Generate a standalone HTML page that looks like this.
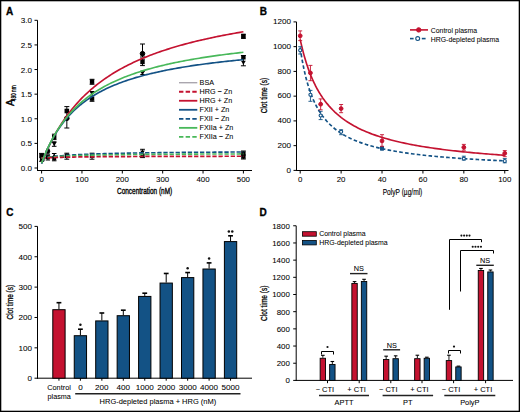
<!DOCTYPE html>
<html><head><meta charset="utf-8"><style>
html,body{margin:0;padding:0;background:#fff;}
svg{display:block;}
text{font-family:"Liberation Sans",sans-serif;}
</style></head><body>
<svg width="520" height="412" viewBox="0 0 520 412">
<rect x="0" y="0" width="520" height="412" fill="#fff"/>
<text x="6.00" y="14.60" font-size="10" text-anchor="start" font-weight="bold" fill="#000" stroke="#000" stroke-width="0.3" >A</text>
<line x1="37.50" y1="20.31" x2="37.50" y2="171.00" stroke="#000" stroke-width="1" />
<line x1="37.00" y1="170.50" x2="252.00" y2="170.50" stroke="#000" stroke-width="1" />
<line x1="34.50" y1="168.00" x2="37.50" y2="168.00" stroke="#000" stroke-width="1" />
<text x="32.10" y="171.00" font-size="8.1" text-anchor="end" font-weight="normal" fill="#000" stroke="#000" stroke-width="0.06" >0.0</text>
<line x1="34.50" y1="143.38" x2="37.50" y2="143.38" stroke="#000" stroke-width="1" />
<text x="32.10" y="146.38" font-size="8.1" text-anchor="end" font-weight="normal" fill="#000" stroke="#000" stroke-width="0.06" >0.5</text>
<line x1="34.50" y1="118.77" x2="37.50" y2="118.77" stroke="#000" stroke-width="1" />
<text x="32.10" y="121.77" font-size="8.1" text-anchor="end" font-weight="normal" fill="#000" stroke="#000" stroke-width="0.06" >1.0</text>
<line x1="34.50" y1="94.16" x2="37.50" y2="94.16" stroke="#000" stroke-width="1" />
<text x="32.10" y="97.16" font-size="8.1" text-anchor="end" font-weight="normal" fill="#000" stroke="#000" stroke-width="0.06" >1.5</text>
<line x1="34.50" y1="69.54" x2="37.50" y2="69.54" stroke="#000" stroke-width="1" />
<text x="32.10" y="72.54" font-size="8.1" text-anchor="end" font-weight="normal" fill="#000" stroke="#000" stroke-width="0.06" >2.0</text>
<line x1="34.50" y1="44.93" x2="37.50" y2="44.93" stroke="#000" stroke-width="1" />
<text x="32.10" y="47.93" font-size="8.1" text-anchor="end" font-weight="normal" fill="#000" stroke="#000" stroke-width="0.06" >2.5</text>
<line x1="34.50" y1="20.31" x2="37.50" y2="20.31" stroke="#000" stroke-width="1" />
<text x="32.10" y="23.31" font-size="8.1" text-anchor="end" font-weight="normal" fill="#000" stroke="#000" stroke-width="0.06" >3.0</text>
<line x1="41.60" y1="170.50" x2="41.60" y2="173.50" stroke="#000" stroke-width="1" />
<text x="41.60" y="181.70" font-size="7.9" text-anchor="middle" font-weight="normal" fill="#000" stroke="#000" stroke-width="0.06" >0</text>
<line x1="81.96" y1="170.50" x2="81.96" y2="173.50" stroke="#000" stroke-width="1" />
<text x="81.96" y="181.70" font-size="7.9" text-anchor="middle" font-weight="normal" fill="#000" stroke="#000" stroke-width="0.06" >100</text>
<line x1="122.32" y1="170.50" x2="122.32" y2="173.50" stroke="#000" stroke-width="1" />
<text x="122.32" y="181.70" font-size="7.9" text-anchor="middle" font-weight="normal" fill="#000" stroke="#000" stroke-width="0.06" >200</text>
<line x1="162.68" y1="170.50" x2="162.68" y2="173.50" stroke="#000" stroke-width="1" />
<text x="162.68" y="181.70" font-size="7.9" text-anchor="middle" font-weight="normal" fill="#000" stroke="#000" stroke-width="0.06" >300</text>
<line x1="203.04" y1="170.50" x2="203.04" y2="173.50" stroke="#000" stroke-width="1" />
<text x="203.04" y="181.70" font-size="7.9" text-anchor="middle" font-weight="normal" fill="#000" stroke="#000" stroke-width="0.06" >400</text>
<line x1="243.40" y1="170.50" x2="243.40" y2="173.50" stroke="#000" stroke-width="1" />
<text x="243.40" y="181.70" font-size="7.9" text-anchor="middle" font-weight="normal" fill="#000" stroke="#000" stroke-width="0.06" >500</text>
<text x="144.60" y="194.20" font-size="8.8" text-anchor="middle" font-weight="normal" fill="#000" stroke="#000" stroke-width="0.35" textLength="55.2" lengthAdjust="spacingAndGlyphs" >Concentration (nM)</text>
<g transform="translate(14,105.8) rotate(-90)"><text x="-0.3" y="0.2" font-size="10" fill="#000" stroke="#000" stroke-width="0.4">A</text><text x="4.6" y="1.8" font-size="7.8" fill="#000" stroke="#000" stroke-width="0.3" textLength="15.9" lengthAdjust="spacingAndGlyphs">490 nm</text></g>
<rect x="241.10" y="34.00" width="4.6" height="4.6" fill="#000"/>
<line x1="243.40" y1="34.20" x2="243.40" y2="38.40" stroke="#000" stroke-width="1.0" />
<line x1="241.10" y1="34.20" x2="245.70" y2="34.20" stroke="#000" stroke-width="1.0" />
<line x1="241.10" y1="38.40" x2="245.70" y2="38.40" stroke="#000" stroke-width="1.0" />
<rect x="241.20" y="55.10" width="4.4" height="4.4" fill="#000"/>
<polygon points="241.00,60.76 245.80,60.76 243.40,64.84" fill="#000"/>
<line x1="243.40" y1="55.50" x2="243.40" y2="65.80" stroke="#000" stroke-width="1.0" />
<line x1="240.90" y1="55.50" x2="245.90" y2="55.50" stroke="#000" stroke-width="1.0" />
<line x1="240.90" y1="65.80" x2="245.90" y2="65.80" stroke="#000" stroke-width="1.0" />
<circle cx="142.50" cy="53.70" r="2.3" fill="#000" stroke="#000" stroke-width="1"/>
<line x1="142.50" y1="44.00" x2="142.50" y2="57.00" stroke="#000" stroke-width="1.0" />
<line x1="140.00" y1="44.00" x2="145.00" y2="44.00" stroke="#000" stroke-width="1.0" />
<line x1="140.00" y1="57.00" x2="145.00" y2="57.00" stroke="#000" stroke-width="1.0" />
<rect x="140.30" y="59.80" width="4.4" height="4.4" fill="#000"/>
<line x1="142.50" y1="59.20" x2="142.50" y2="65.60" stroke="#000" stroke-width="1.0" />
<line x1="140.10" y1="59.20" x2="144.90" y2="59.20" stroke="#000" stroke-width="1.0" />
<line x1="140.10" y1="65.60" x2="144.90" y2="65.60" stroke="#000" stroke-width="1.0" />
<polygon points="140.10,71.06 144.90,71.06 142.50,75.14" fill="#000"/>
<line x1="142.50" y1="71.20" x2="142.50" y2="74.50" stroke="#000" stroke-width="1.0" />
<line x1="140.30" y1="71.20" x2="144.70" y2="71.20" stroke="#000" stroke-width="1.0" />
<line x1="140.30" y1="74.50" x2="144.70" y2="74.50" stroke="#000" stroke-width="1.0" />
<rect x="89.85" y="79.50" width="4.4" height="4.4" fill="#000"/>
<line x1="92.05" y1="79.30" x2="92.05" y2="84.30" stroke="#000" stroke-width="1.0" />
<line x1="89.65" y1="79.30" x2="94.45" y2="79.30" stroke="#000" stroke-width="1.0" />
<line x1="89.65" y1="84.30" x2="94.45" y2="84.30" stroke="#000" stroke-width="1.0" />
<polygon points="89.65,91.56 94.45,91.56 92.05,95.64" fill="#000"/>
<rect x="89.85" y="96.40" width="4.4" height="4.4" fill="#000"/>
<line x1="92.05" y1="91.50" x2="92.05" y2="101.30" stroke="#000" stroke-width="1.0" />
<line x1="89.65" y1="91.50" x2="94.45" y2="91.50" stroke="#000" stroke-width="1.0" />
<line x1="89.65" y1="101.30" x2="94.45" y2="101.30" stroke="#000" stroke-width="1.0" />
<rect x="64.53" y="108.70" width="4.6" height="4.6" fill="#000"/>
<circle cx="66.83" cy="118.30" r="2.3" fill="#000" stroke="#000" stroke-width="1"/>
<line x1="66.83" y1="106.60" x2="66.83" y2="128.00" stroke="#000" stroke-width="1.0" />
<line x1="64.33" y1="106.60" x2="69.33" y2="106.60" stroke="#000" stroke-width="1.0" />
<line x1="64.33" y1="128.00" x2="69.33" y2="128.00" stroke="#000" stroke-width="1.0" />
<rect x="52.01" y="134.70" width="4.4" height="4.4" fill="#000"/>
<line x1="54.21" y1="134.20" x2="54.21" y2="139.60" stroke="#000" stroke-width="1.0" />
<line x1="51.91" y1="134.20" x2="56.51" y2="134.20" stroke="#000" stroke-width="1.0" />
<line x1="51.91" y1="139.60" x2="56.51" y2="139.60" stroke="#000" stroke-width="1.0" />
<polygon points="51.81,142.06 56.61,142.06 54.21,146.14" fill="#000"/>
<line x1="54.21" y1="141.80" x2="54.21" y2="146.30" stroke="#000" stroke-width="1.0" />
<line x1="51.91" y1="141.80" x2="56.51" y2="141.80" stroke="#000" stroke-width="1.0" />
<line x1="51.91" y1="146.30" x2="56.51" y2="146.30" stroke="#000" stroke-width="1.0" />
<circle cx="47.90" cy="151.20" r="1.9" fill="#000" stroke="#000" stroke-width="1"/>
<line x1="47.90" y1="149.20" x2="47.90" y2="153.20" stroke="#000" stroke-width="1.0" />
<line x1="46.10" y1="149.20" x2="49.70" y2="149.20" stroke="#000" stroke-width="1.0" />
<line x1="46.10" y1="153.20" x2="49.70" y2="153.20" stroke="#000" stroke-width="1.0" />
<rect x="39.30" y="153.50" width="4.6" height="4.6" fill="#000"/>
<rect x="39.90" y="156.50" width="4.6" height="4.6" fill="#000"/>
<line x1="41.60" y1="153.40" x2="41.60" y2="161.30" stroke="#000" stroke-width="1.0" />
<line x1="39.10" y1="153.40" x2="44.10" y2="153.40" stroke="#000" stroke-width="1.0" />
<line x1="39.10" y1="161.30" x2="44.10" y2="161.30" stroke="#000" stroke-width="1.0" />
<rect x="45.90" y="155.20" width="4.0" height="4.0" fill="#000"/>
<line x1="47.90" y1="154.80" x2="47.90" y2="160.00" stroke="#000" stroke-width="1.0" />
<line x1="45.70" y1="154.80" x2="50.10" y2="154.80" stroke="#000" stroke-width="1.0" />
<line x1="45.70" y1="160.00" x2="50.10" y2="160.00" stroke="#000" stroke-width="1.0" />
<polygon points="52.01,157.17 56.41,157.17 54.21,153.43" fill="#000"/>
<rect x="52.21" y="156.30" width="4.0" height="4.0" fill="#000"/>
<line x1="54.21" y1="153.50" x2="54.21" y2="160.80" stroke="#000" stroke-width="1.0" />
<line x1="51.91" y1="153.50" x2="56.51" y2="153.50" stroke="#000" stroke-width="1.0" />
<line x1="51.91" y1="160.80" x2="56.51" y2="160.80" stroke="#000" stroke-width="1.0" />
<rect x="64.62" y="153.60" width="4.4" height="4.4" fill="#000"/>
<line x1="66.83" y1="153.20" x2="66.83" y2="159.20" stroke="#000" stroke-width="1.0" />
<line x1="64.42" y1="153.20" x2="69.23" y2="153.20" stroke="#000" stroke-width="1.0" />
<line x1="64.42" y1="159.20" x2="69.23" y2="159.20" stroke="#000" stroke-width="1.0" />
<rect x="89.85" y="153.60" width="4.4" height="4.4" fill="#000"/>
<line x1="92.05" y1="153.20" x2="92.05" y2="159.20" stroke="#000" stroke-width="1.0" />
<line x1="89.65" y1="153.20" x2="94.45" y2="153.20" stroke="#000" stroke-width="1.0" />
<line x1="89.65" y1="159.20" x2="94.45" y2="159.20" stroke="#000" stroke-width="1.0" />
<polygon points="140.20,150.54 144.80,150.54 142.50,154.46" fill="#000"/>
<rect x="140.40" y="153.40" width="4.2" height="4.2" fill="#000"/>
<line x1="142.50" y1="149.30" x2="142.50" y2="157.60" stroke="#000" stroke-width="1.0" />
<line x1="140.10" y1="149.30" x2="144.90" y2="149.30" stroke="#000" stroke-width="1.0" />
<line x1="140.10" y1="157.60" x2="144.90" y2="157.60" stroke="#000" stroke-width="1.0" />
<rect x="241.20" y="151.30" width="4.4" height="4.4" fill="#000"/>
<rect x="241.20" y="154.30" width="4.4" height="4.4" fill="#000"/>
<line x1="243.40" y1="151.00" x2="243.40" y2="159.00" stroke="#000" stroke-width="1.0" />
<line x1="241.00" y1="151.00" x2="245.80" y2="151.00" stroke="#000" stroke-width="1.0" />
<line x1="241.00" y1="159.00" x2="245.80" y2="159.00" stroke="#000" stroke-width="1.0" />
<polyline points="41.60,158.15 43.30,157.86 44.99,157.58 46.69,157.33 48.38,157.09 50.08,156.87 51.77,156.67 53.47,156.48 55.17,156.30 56.86,156.13 58.56,155.97 60.25,155.82 61.95,155.68 63.65,155.55 65.34,155.42 67.04,155.30 68.73,155.19 70.43,155.08 72.12,154.97 73.82,154.88 75.52,154.78 77.21,154.69 78.91,154.61 80.60,154.52 82.30,154.45 83.99,154.37 85.69,154.30 87.39,154.23 89.08,154.16 90.78,154.10 92.47,154.04 94.17,153.98 95.87,153.92 97.56,153.86 99.26,153.81 100.95,153.76 102.65,153.71 104.34,153.66 106.04,153.61 107.74,153.57 109.43,153.52 111.13,153.48 112.82,153.44 114.52,153.40 116.22,153.36 117.91,153.32 119.61,153.29 121.30,153.25 123.00,153.22 124.69,153.18 126.39,153.15 128.09,153.12 129.78,153.09 131.48,153.06 133.17,153.03 134.87,153.00 136.56,152.97 138.26,152.94 139.96,152.92 141.65,152.89 143.35,152.87 145.04,152.84 146.74,152.82 148.44,152.79 150.13,152.77 151.83,152.75 153.52,152.73 155.22,152.71 156.91,152.68 158.61,152.66 160.31,152.64 162.00,152.62 163.70,152.60 165.39,152.59 167.09,152.57 168.78,152.55 170.48,152.53 172.18,152.51 173.87,152.50 175.57,152.48 177.26,152.46 178.96,152.45 180.66,152.43 182.35,152.42 184.05,152.40 185.74,152.38 187.44,152.37 189.13,152.36 190.83,152.34 192.53,152.33 194.22,152.31 195.92,152.30 197.61,152.29 199.31,152.27 201.01,152.26 202.70,152.25 204.40,152.24 206.09,152.22 207.79,152.21 209.48,152.20 211.18,152.19 212.88,152.18 214.57,152.17 216.27,152.16 217.96,152.14 219.66,152.13 221.35,152.12 223.05,152.11 224.75,152.10 226.44,152.09 228.14,152.08 229.83,152.07 231.53,152.06 233.23,152.05 234.92,152.04 236.62,152.04 238.31,152.03 240.01,152.02 241.70,152.01 243.40,152.00" fill="none" stroke="#135285" stroke-width="1.6" stroke-dasharray="4.3,1.8"/>
<polyline points="41.60,158.15 43.30,157.91 44.99,157.69 46.69,157.48 48.38,157.30 50.08,157.13 51.77,156.97 53.47,156.83 55.17,156.70 56.86,156.57 58.56,156.46 60.25,156.35 61.95,156.25 63.65,156.16 65.34,156.07 67.04,155.98 68.73,155.91 70.43,155.83 72.12,155.76 73.82,155.70 75.52,155.63 77.21,155.57 78.91,155.51 80.60,155.46 82.30,155.41 83.99,155.36 85.69,155.31 87.39,155.27 89.08,155.22 90.78,155.18 92.47,155.14 94.17,155.10 95.87,155.07 97.56,155.03 99.26,155.00 100.95,154.97 102.65,154.93 104.34,154.90 106.04,154.87 107.74,154.85 109.43,154.82 111.13,154.79 112.82,154.77 114.52,154.74 116.22,154.72 117.91,154.69 119.61,154.67 121.30,154.65 123.00,154.63 124.69,154.61 126.39,154.59 128.09,154.57 129.78,154.55 131.48,154.53 133.17,154.51 134.87,154.50 136.56,154.48 138.26,154.46 139.96,154.45 141.65,154.43 143.35,154.42 145.04,154.40 146.74,154.39 148.44,154.37 150.13,154.36 151.83,154.35 153.52,154.33 155.22,154.32 156.91,154.31 158.61,154.30 160.31,154.28 162.00,154.27 163.70,154.26 165.39,154.25 167.09,154.24 168.78,154.23 170.48,154.22 172.18,154.21 173.87,154.20 175.57,154.19 177.26,154.18 178.96,154.17 180.66,154.16 182.35,154.15 184.05,154.14 185.74,154.13 187.44,154.12 189.13,154.11 190.83,154.11 192.53,154.10 194.22,154.09 195.92,154.08 197.61,154.08 199.31,154.07 201.01,154.06 202.70,154.05 204.40,154.05 206.09,154.04 207.79,154.03 209.48,154.03 211.18,154.02 212.88,154.01 214.57,154.01 216.27,154.00 217.96,153.99 219.66,153.99 221.35,153.98 223.05,153.97 224.75,153.97 226.44,153.96 228.14,153.96 229.83,153.95 231.53,153.95 233.23,153.94 234.92,153.94 236.62,153.93 238.31,153.93 240.01,153.92 241.70,153.91 243.40,153.91" fill="none" stroke="#48b85a" stroke-width="1.6" stroke-dasharray="4.3,1.8"/>
<polyline points="41.60,158.15 43.30,158.04 44.99,157.94 46.69,157.85 48.38,157.77 50.08,157.69 51.77,157.62 53.47,157.56 55.17,157.50 56.86,157.44 58.56,157.39 60.25,157.34 61.95,157.30 63.65,157.26 65.34,157.22 67.04,157.18 68.73,157.14 70.43,157.11 72.12,157.08 73.82,157.05 75.52,157.02 77.21,156.99 78.91,156.97 80.60,156.94 82.30,156.92 83.99,156.90 85.69,156.88 87.39,156.85 89.08,156.84 90.78,156.82 92.47,156.80 94.17,156.78 95.87,156.77 97.56,156.75 99.26,156.73 100.95,156.72 102.65,156.71 104.34,156.69 106.04,156.68 107.74,156.67 109.43,156.65 111.13,156.64 112.82,156.63 114.52,156.62 116.22,156.61 117.91,156.60 119.61,156.59 121.30,156.58 123.00,156.57 124.69,156.56 126.39,156.55 128.09,156.54 129.78,156.53 131.48,156.52 133.17,156.52 134.87,156.51 136.56,156.50 138.26,156.49 139.96,156.49 141.65,156.48 143.35,156.47 145.04,156.47 146.74,156.46 148.44,156.45 150.13,156.45 151.83,156.44 153.52,156.43 155.22,156.43 156.91,156.42 158.61,156.42 160.31,156.41 162.00,156.41 163.70,156.40 165.39,156.40 167.09,156.39 168.78,156.39 170.48,156.38 172.18,156.38 173.87,156.37 175.57,156.37 177.26,156.36 178.96,156.36 180.66,156.36 182.35,156.35 184.05,156.35 185.74,156.34 187.44,156.34 189.13,156.34 190.83,156.33 192.53,156.33 194.22,156.33 195.92,156.32 197.61,156.32 199.31,156.32 201.01,156.31 202.70,156.31 204.40,156.31 206.09,156.30 207.79,156.30 209.48,156.30 211.18,156.29 212.88,156.29 214.57,156.29 216.27,156.28 217.96,156.28 219.66,156.28 221.35,156.28 223.05,156.27 224.75,156.27 226.44,156.27 228.14,156.27 229.83,156.26 231.53,156.26 233.23,156.26 234.92,156.26 236.62,156.25 238.31,156.25 240.01,156.25 241.70,156.25 243.40,156.24" fill="none" stroke="#c41230" stroke-width="1.7" stroke-dasharray="4.3,1.8"/>
<polyline points="41.60,163.09 43.30,158.86 44.99,154.83 46.69,150.98 48.38,147.31 50.08,143.79 51.77,140.43 53.47,137.21 55.17,134.12 56.86,131.16 58.56,128.31 60.25,125.57 61.95,122.94 63.65,120.40 65.34,117.96 67.04,115.60 68.73,113.33 70.43,111.14 72.12,109.02 73.82,106.97 75.52,104.99 77.21,103.08 78.91,101.23 80.60,99.43 82.30,97.69 83.99,96.00 85.69,94.37 87.39,92.78 89.08,91.24 90.78,89.74 92.47,88.28 94.17,86.87 95.87,85.49 97.56,84.15 99.26,82.85 100.95,81.58 102.65,80.35 104.34,79.14 106.04,77.97 107.74,76.83 109.43,75.71 111.13,74.63 112.82,73.57 114.52,72.53 116.22,71.52 117.91,70.53 119.61,69.57 121.30,68.62 123.00,67.70 124.69,66.80 126.39,65.92 128.09,65.06 129.78,64.21 131.48,63.39 133.17,62.58 134.87,61.79 136.56,61.02 138.26,60.26 139.96,59.51 141.65,58.79 143.35,58.07 145.04,57.37 146.74,56.69 148.44,56.01 150.13,55.35 151.83,54.70 153.52,54.07 155.22,53.45 156.91,52.83 158.61,52.23 160.31,51.64 162.00,51.06 163.70,50.49 165.39,49.93 167.09,49.38 168.78,48.84 170.48,48.31 172.18,47.79 173.87,47.28 175.57,46.77 177.26,46.28 178.96,45.79 180.66,45.31 182.35,44.84 184.05,44.37 185.74,43.92 187.44,43.47 189.13,43.02 190.83,42.59 192.53,42.16 194.22,41.74 195.92,41.32 197.61,40.91 199.31,40.51 201.01,40.11 202.70,39.72 204.40,39.33 206.09,38.95 207.79,38.57 209.48,38.20 211.18,37.84 212.88,37.48 214.57,37.13 216.27,36.78 217.96,36.43 219.66,36.09 221.35,35.76 223.05,35.43 224.75,35.10 226.44,34.78 228.14,34.46 229.83,34.15 231.53,33.84 233.23,33.53 234.92,33.23 236.62,32.93 238.31,32.64 240.01,32.35 241.70,32.06 243.40,31.78" fill="none" stroke="#c41230" stroke-width="1.65"/>
<polyline points="41.60,163.81 43.30,159.20 44.99,154.90 46.69,150.90 48.38,147.16 50.08,143.66 51.77,140.37 53.47,137.27 55.17,134.36 56.86,131.61 58.56,129.01 60.25,126.54 61.95,124.21 63.65,121.99 65.34,119.88 67.04,117.87 68.73,115.96 70.43,114.14 72.12,112.39 73.82,110.73 75.52,109.13 77.21,107.60 78.91,106.14 80.60,104.73 82.30,103.38 83.99,102.08 85.69,100.83 87.39,99.63 89.08,98.47 90.78,97.35 92.47,96.27 94.17,95.23 95.87,94.23 97.56,93.26 99.26,92.32 100.95,91.41 102.65,90.53 104.34,89.68 106.04,88.85 107.74,88.05 109.43,87.28 111.13,86.52 112.82,85.79 114.52,85.08 116.22,84.39 117.91,83.72 119.61,83.07 121.30,82.43 123.00,81.82 124.69,81.21 126.39,80.63 128.09,80.06 129.78,79.50 131.48,78.96 133.17,78.43 134.87,77.91 136.56,77.41 138.26,76.92 139.96,76.44 141.65,75.97 143.35,75.51 145.04,75.07 146.74,74.63 148.44,74.20 150.13,73.78 151.83,73.38 153.52,72.98 155.22,72.58 156.91,72.20 158.61,71.83 160.31,71.46 162.00,71.10 163.70,70.75 165.39,70.40 167.09,70.06 168.78,69.73 170.48,69.41 172.18,69.09 173.87,68.77 175.57,68.47 177.26,68.16 178.96,67.87 180.66,67.58 182.35,67.29 184.05,67.01 185.74,66.74 187.44,66.47 189.13,66.20 190.83,65.94 192.53,65.69 194.22,65.43 195.92,65.19 197.61,64.94 199.31,64.70 201.01,64.47 202.70,64.24 204.40,64.01 206.09,63.79 207.79,63.57 209.48,63.35 211.18,63.14 212.88,62.93 214.57,62.72 216.27,62.52 217.96,62.32 219.66,62.12 221.35,61.92 223.05,61.73 224.75,61.54 226.44,61.36 228.14,61.17 229.83,60.99 231.53,60.82 233.23,60.64 234.92,60.47 236.62,60.30 238.31,60.13 240.01,59.96 241.70,59.80 243.40,59.64" fill="none" stroke="#135285" stroke-width="1.65"/>
<polyline points="41.60,163.12 43.30,158.65 44.99,154.46 46.69,150.53 48.38,146.82 50.08,143.33 51.77,140.03 53.47,136.91 55.17,133.95 56.86,131.15 58.56,128.48 60.25,125.94 61.95,123.53 63.65,121.22 65.34,119.02 67.04,116.92 68.73,114.91 70.43,112.99 72.12,111.14 73.82,109.37 75.52,107.67 77.21,106.04 78.91,104.47 80.60,102.96 82.30,101.50 83.99,100.10 85.69,98.75 87.39,97.45 89.08,96.19 90.78,94.97 92.47,93.79 94.17,92.65 95.87,91.55 97.56,90.49 99.26,89.45 100.95,88.45 102.65,87.48 104.34,86.54 106.04,85.62 107.74,84.73 109.43,83.87 111.13,83.03 112.82,82.22 114.52,81.42 116.22,80.65 117.91,79.90 119.61,79.17 121.30,78.46 123.00,77.76 124.69,77.09 126.39,76.43 128.09,75.78 129.78,75.16 131.48,74.54 133.17,73.95 134.87,73.36 136.56,72.79 138.26,72.23 139.96,71.69 141.65,71.16 143.35,70.64 145.04,70.13 146.74,69.63 148.44,69.14 150.13,68.67 151.83,68.20 153.52,67.74 155.22,67.29 156.91,66.85 158.61,66.42 160.31,66.00 162.00,65.59 163.70,65.19 165.39,64.79 167.09,64.40 168.78,64.02 170.48,63.64 172.18,63.27 173.87,62.91 175.57,62.56 177.26,62.21 178.96,61.87 180.66,61.53 182.35,61.20 184.05,60.88 185.74,60.56 187.44,60.25 189.13,59.94 190.83,59.64 192.53,59.34 194.22,59.05 195.92,58.76 197.61,58.48 199.31,58.20 201.01,57.93 202.70,57.66 204.40,57.40 206.09,57.13 207.79,56.88 209.48,56.63 211.18,56.38 212.88,56.13 214.57,55.89 216.27,55.65 217.96,55.42 219.66,55.19 221.35,54.96 223.05,54.74 224.75,54.52 226.44,54.30 228.14,54.08 229.83,53.87 231.53,53.66 233.23,53.46 234.92,53.26 236.62,53.06 238.31,52.86 240.01,52.66 241.70,52.47 243.40,52.28" fill="none" stroke="#48b85a" stroke-width="1.65"/>
<line x1="179.00" y1="82.70" x2="197.30" y2="82.70" stroke="#aaa6ae" stroke-width="1.4" />
<text x="199.60" y="85.30" font-size="7.2" text-anchor="start" font-weight="normal" fill="#000" stroke="#000" stroke-width="0.06" >BSA</text>
<line x1="179.00" y1="91.73" x2="197.30" y2="91.73" stroke="#c41230" stroke-width="1.8" stroke-dasharray="4.4,2.25"/>
<text x="199.60" y="94.33" font-size="7.2" text-anchor="start" font-weight="normal" fill="#000" stroke="#000" stroke-width="0.06" >HRG − Zn</text>
<line x1="179.00" y1="100.76" x2="197.30" y2="100.76" stroke="#c41230" stroke-width="1.8" />
<text x="199.60" y="103.36" font-size="7.2" text-anchor="start" font-weight="normal" fill="#000" stroke="#000" stroke-width="0.06" >HRG + Zn</text>
<line x1="179.00" y1="109.79" x2="197.30" y2="109.79" stroke="#135285" stroke-width="1.8" />
<text x="199.60" y="112.39" font-size="7.2" text-anchor="start" font-weight="normal" fill="#000" stroke="#000" stroke-width="0.06" >FXII + Zn</text>
<line x1="179.00" y1="118.82" x2="197.30" y2="118.82" stroke="#135285" stroke-width="1.8" stroke-dasharray="4.4,2.25"/>
<text x="199.60" y="121.42" font-size="7.2" text-anchor="start" font-weight="normal" fill="#000" stroke="#000" stroke-width="0.06" >FXII − Zn</text>
<line x1="179.00" y1="127.85" x2="197.30" y2="127.85" stroke="#48b85a" stroke-width="1.8" />
<text x="199.60" y="130.45" font-size="7.2" text-anchor="start" font-weight="normal" fill="#000" stroke="#000" stroke-width="0.06" >FXIIa + Zn</text>
<line x1="179.00" y1="136.88" x2="197.30" y2="136.88" stroke="#48b85a" stroke-width="1.8" stroke-dasharray="4.4,2.25"/>
<text x="199.60" y="139.48" font-size="7.2" text-anchor="start" font-weight="normal" fill="#000" stroke="#000" stroke-width="0.06" >FXIIa − Zn</text>
<text x="259.80" y="14.90" font-size="10" text-anchor="start" font-weight="bold" fill="#000" stroke="#000" stroke-width="0.3" >B</text>
<line x1="296.50" y1="21.90" x2="296.50" y2="171.00" stroke="#000" stroke-width="1" />
<line x1="296.00" y1="170.50" x2="508.50" y2="170.50" stroke="#000" stroke-width="1" />
<line x1="293.50" y1="170.40" x2="296.50" y2="170.40" stroke="#000" stroke-width="1" />
<text x="290.90" y="172.65" font-size="8.1" text-anchor="end" font-weight="normal" fill="#000" stroke="#000" stroke-width="0.06" >0</text>
<line x1="293.50" y1="145.65" x2="296.50" y2="145.65" stroke="#000" stroke-width="1" />
<text x="290.90" y="147.90" font-size="8.1" text-anchor="end" font-weight="normal" fill="#000" stroke="#000" stroke-width="0.06" >200</text>
<line x1="293.50" y1="120.90" x2="296.50" y2="120.90" stroke="#000" stroke-width="1" />
<text x="290.90" y="123.15" font-size="8.1" text-anchor="end" font-weight="normal" fill="#000" stroke="#000" stroke-width="0.06" >400</text>
<line x1="293.50" y1="96.15" x2="296.50" y2="96.15" stroke="#000" stroke-width="1" />
<text x="290.90" y="98.40" font-size="8.1" text-anchor="end" font-weight="normal" fill="#000" stroke="#000" stroke-width="0.06" >600</text>
<line x1="293.50" y1="71.40" x2="296.50" y2="71.40" stroke="#000" stroke-width="1" />
<text x="290.90" y="73.65" font-size="8.1" text-anchor="end" font-weight="normal" fill="#000" stroke="#000" stroke-width="0.06" >800</text>
<line x1="293.50" y1="46.65" x2="296.50" y2="46.65" stroke="#000" stroke-width="1" />
<text x="290.90" y="48.90" font-size="8.1" text-anchor="end" font-weight="normal" fill="#000" stroke="#000" stroke-width="0.06" >1000</text>
<line x1="293.50" y1="21.90" x2="296.50" y2="21.90" stroke="#000" stroke-width="1" />
<text x="290.90" y="24.15" font-size="8.1" text-anchor="end" font-weight="normal" fill="#000" stroke="#000" stroke-width="0.06" >1200</text>
<line x1="300.20" y1="170.50" x2="300.20" y2="173.50" stroke="#000" stroke-width="1" />
<text x="300.20" y="181.70" font-size="7.9" text-anchor="middle" font-weight="normal" fill="#000" stroke="#000" stroke-width="0.06" >0</text>
<line x1="341.11" y1="170.50" x2="341.11" y2="173.50" stroke="#000" stroke-width="1" />
<text x="341.11" y="181.70" font-size="7.9" text-anchor="middle" font-weight="normal" fill="#000" stroke="#000" stroke-width="0.06" >20</text>
<line x1="382.02" y1="170.50" x2="382.02" y2="173.50" stroke="#000" stroke-width="1" />
<text x="382.02" y="181.70" font-size="7.9" text-anchor="middle" font-weight="normal" fill="#000" stroke="#000" stroke-width="0.06" >40</text>
<line x1="422.93" y1="170.50" x2="422.93" y2="173.50" stroke="#000" stroke-width="1" />
<text x="422.93" y="181.70" font-size="7.9" text-anchor="middle" font-weight="normal" fill="#000" stroke="#000" stroke-width="0.06" >60</text>
<line x1="463.84" y1="170.50" x2="463.84" y2="173.50" stroke="#000" stroke-width="1" />
<text x="463.84" y="181.70" font-size="7.9" text-anchor="middle" font-weight="normal" fill="#000" stroke="#000" stroke-width="0.06" >80</text>
<line x1="504.75" y1="170.50" x2="504.75" y2="173.50" stroke="#000" stroke-width="1" />
<text x="504.75" y="181.70" font-size="7.9" text-anchor="middle" font-weight="normal" fill="#000" stroke="#000" stroke-width="0.06" >100</text>
<text x="402.50" y="194.60" font-size="8.8" text-anchor="middle" font-weight="normal" fill="#000" stroke="#000" stroke-width="0.15" textLength="39.6" lengthAdjust="spacingAndGlyphs" >PolyP (µg/ml)</text>
<g transform="translate(267.4,95.6) rotate(-90)"><text x="0" y="0" font-size="9" text-anchor="middle" fill="#000" stroke="#000" stroke-width="0.3" textLength="35.4" lengthAdjust="spacingAndGlyphs">Clot time (s)</text></g>
<polyline points="300.20,47.91 300.72,51.39 301.25,54.68 301.77,57.79 302.30,60.74 302.82,63.54 303.35,66.20 303.87,68.73 304.40,71.14 304.92,73.44 305.44,75.64 305.97,77.74 306.49,79.75 307.02,81.68 307.54,83.52 308.07,85.29 308.59,86.99 309.12,88.62 309.64,90.19 310.17,91.71 310.69,93.16 311.21,94.57 311.74,95.92 312.26,97.23 312.79,98.49 313.31,99.71 313.84,100.89 314.36,102.03 314.89,103.13 315.41,104.20 315.93,105.24 316.46,106.24 316.98,107.21 317.51,108.16 318.03,109.08 318.56,109.97 319.08,110.83 319.61,111.67 320.13,112.49 320.65,113.29 320.65,113.29 322.72,116.22 324.79,118.88 326.86,121.28 328.93,123.47 331.00,125.48 333.07,127.33 335.13,129.03 337.20,130.60 339.27,132.05 341.34,133.41 343.41,134.67 345.48,135.86 347.55,136.96 349.61,138.00 351.68,138.98 353.75,139.90 355.82,140.77 357.89,141.59 359.96,142.37 362.02,143.10 364.09,143.81 366.16,144.47 368.23,145.10 370.30,145.71 372.37,146.28 374.44,146.83 376.50,147.36 378.57,147.86 380.64,148.35 382.71,148.81 384.78,149.25 386.85,149.68 388.91,150.09 390.98,150.48 393.05,150.86 395.12,151.23 397.19,151.58 399.26,151.92 401.33,152.25 403.39,152.57 405.46,152.87 407.53,153.17 409.60,153.46 411.67,153.73 413.74,154.00 415.81,154.26 417.87,154.51 419.94,154.76 422.01,155.00 424.08,155.23 426.15,155.45 428.22,155.67 430.28,155.88 432.35,156.09 434.42,156.29 436.49,156.48 438.56,156.67 440.63,156.86 442.70,157.04 444.76,157.21 446.83,157.38 448.90,157.55 450.97,157.71 453.04,157.87 455.11,158.03 457.17,158.18 459.24,158.33 461.31,158.47 463.38,158.61 465.45,158.75 467.52,158.88 469.59,159.01 471.65,159.14 473.72,159.27 475.79,159.39 477.86,159.51 479.93,159.63 482.00,159.75 484.07,159.86 486.13,159.97 488.20,160.08 490.27,160.19 492.34,160.29 494.41,160.40 496.48,160.50 498.54,160.60 500.61,160.69 502.68,160.79 504.75,160.88" fill="none" stroke="#135285" stroke-width="1.65" stroke-dasharray="3.6,2.3"/>
<polyline points="300.20,39.46 300.72,41.86 301.25,44.17 301.77,46.40 302.30,48.56 302.82,50.64 303.35,52.65 303.87,54.60 304.40,56.48 304.92,58.30 305.44,60.07 305.97,61.78 306.49,63.44 307.02,65.05 307.54,66.61 308.07,68.13 308.59,69.61 309.12,71.04 309.64,72.43 310.17,73.79 310.69,75.10 311.21,76.39 311.74,77.64 312.26,78.85 312.79,80.04 313.31,81.20 313.84,82.32 314.36,83.42 314.89,84.49 315.41,85.54 315.93,86.56 316.46,87.56 316.98,88.53 317.51,89.48 318.03,90.41 318.56,91.32 319.08,92.21 319.61,93.08 320.13,93.93 320.65,94.76 320.65,94.76 322.72,97.88 324.79,100.75 326.86,103.40 328.93,105.86 331.00,108.15 333.07,110.29 335.13,112.29 337.20,114.15 339.27,115.91 341.34,117.56 343.41,119.11 345.48,120.58 347.55,121.97 349.61,123.28 351.68,124.52 353.75,125.71 355.82,126.83 357.89,127.90 359.96,128.92 362.02,129.89 364.09,130.82 366.16,131.71 368.23,132.56 370.30,133.37 372.37,134.15 374.44,134.90 376.50,135.62 378.57,136.31 380.64,136.98 382.71,137.62 384.78,138.24 386.85,138.83 388.91,139.41 390.98,139.96 393.05,140.50 395.12,141.01 397.19,141.51 399.26,142.00 401.33,142.46 403.39,142.92 405.46,143.36 407.53,143.78 409.60,144.20 411.67,144.60 413.74,144.99 415.81,145.37 417.87,145.73 419.94,146.09 422.01,146.44 424.08,146.78 426.15,147.10 428.22,147.42 430.28,147.74 432.35,148.04 434.42,148.34 436.49,148.62 438.56,148.91 440.63,149.18 442.70,149.45 444.76,149.71 446.83,149.97 448.90,150.21 450.97,150.46 453.04,150.70 455.11,150.93 457.17,151.16 459.24,151.38 461.31,151.60 463.38,151.81 465.45,152.02 467.52,152.22 469.59,152.42 471.65,152.62 473.72,152.81 475.79,153.00 477.86,153.18 479.93,153.36 482.00,153.54 484.07,153.71 486.13,153.88 488.20,154.05 490.27,154.21 492.34,154.37 494.41,154.53 496.48,154.68 498.54,154.83 500.61,154.98 502.68,155.13 504.75,155.27" fill="none" stroke="#c41230" stroke-width="1.65"/>
<line x1="300.20" y1="46.70" x2="300.20" y2="54.00" stroke="#135285" stroke-width="0.9" />
<line x1="298.20" y1="46.70" x2="302.20" y2="46.70" stroke="#135285" stroke-width="0.9" />
<line x1="298.20" y1="54.00" x2="302.20" y2="54.00" stroke="#135285" stroke-width="0.9" />
<circle cx="300.20" cy="50.30" r="1.55" fill="#fff" stroke="#135285" stroke-width="1.15"/>
<line x1="310.43" y1="90.40" x2="310.43" y2="101.30" stroke="#135285" stroke-width="0.9" />
<line x1="308.43" y1="90.40" x2="312.43" y2="90.40" stroke="#135285" stroke-width="0.9" />
<line x1="308.43" y1="101.30" x2="312.43" y2="101.30" stroke="#135285" stroke-width="0.9" />
<circle cx="310.43" cy="94.80" r="1.55" fill="#fff" stroke="#135285" stroke-width="1.15"/>
<line x1="320.65" y1="111.30" x2="320.65" y2="119.60" stroke="#135285" stroke-width="0.9" />
<line x1="318.65" y1="111.30" x2="322.65" y2="111.30" stroke="#135285" stroke-width="0.9" />
<line x1="318.65" y1="119.60" x2="322.65" y2="119.60" stroke="#135285" stroke-width="0.9" />
<circle cx="320.65" cy="115.50" r="1.55" fill="#fff" stroke="#135285" stroke-width="1.15"/>
<line x1="341.11" y1="129.80" x2="341.11" y2="134.70" stroke="#135285" stroke-width="0.9" />
<line x1="339.11" y1="129.80" x2="343.11" y2="129.80" stroke="#135285" stroke-width="0.9" />
<line x1="339.11" y1="134.70" x2="343.11" y2="134.70" stroke="#135285" stroke-width="0.9" />
<circle cx="341.11" cy="131.70" r="1.55" fill="#fff" stroke="#135285" stroke-width="1.15"/>
<line x1="382.02" y1="147.00" x2="382.02" y2="150.00" stroke="#135285" stroke-width="0.9" />
<line x1="380.02" y1="147.00" x2="384.02" y2="147.00" stroke="#135285" stroke-width="0.9" />
<line x1="380.02" y1="150.00" x2="384.02" y2="150.00" stroke="#135285" stroke-width="0.9" />
<circle cx="382.02" cy="148.30" r="1.55" fill="#fff" stroke="#135285" stroke-width="1.15"/>
<rect x="380.02" y="146.30" width="4.0" height="4.0" fill="#135285"/>
<line x1="463.84" y1="156.20" x2="463.84" y2="160.10" stroke="#135285" stroke-width="0.9" />
<line x1="461.84" y1="156.20" x2="465.84" y2="156.20" stroke="#135285" stroke-width="0.9" />
<line x1="461.84" y1="160.10" x2="465.84" y2="160.10" stroke="#135285" stroke-width="0.9" />
<circle cx="463.84" cy="158.60" r="1.55" fill="#fff" stroke="#135285" stroke-width="1.15"/>
<line x1="504.75" y1="158.60" x2="504.75" y2="162.80" stroke="#135285" stroke-width="0.9" />
<line x1="502.75" y1="158.60" x2="506.75" y2="158.60" stroke="#135285" stroke-width="0.9" />
<line x1="502.75" y1="162.80" x2="506.75" y2="162.80" stroke="#135285" stroke-width="0.9" />
<circle cx="504.75" cy="161.00" r="1.55" fill="#fff" stroke="#135285" stroke-width="1.15"/>
<line x1="300.20" y1="30.90" x2="300.20" y2="40.60" stroke="#c41230" stroke-width="0.9" />
<line x1="298.20" y1="30.90" x2="302.20" y2="30.90" stroke="#c41230" stroke-width="0.9" />
<line x1="298.20" y1="40.60" x2="302.20" y2="40.60" stroke="#c41230" stroke-width="0.9" />
<circle cx="300.20" cy="35.80" r="1.9" fill="#c41230" stroke="#c41230" stroke-width="1"/>
<line x1="310.43" y1="65.40" x2="310.43" y2="80.70" stroke="#c41230" stroke-width="0.9" />
<line x1="308.43" y1="65.40" x2="312.43" y2="65.40" stroke="#c41230" stroke-width="0.9" />
<line x1="308.43" y1="80.70" x2="312.43" y2="80.70" stroke="#c41230" stroke-width="0.9" />
<circle cx="310.43" cy="72.90" r="1.9" fill="#c41230" stroke="#c41230" stroke-width="1"/>
<line x1="320.65" y1="98.90" x2="320.65" y2="109.80" stroke="#c41230" stroke-width="0.9" />
<line x1="318.65" y1="98.90" x2="322.65" y2="98.90" stroke="#c41230" stroke-width="0.9" />
<line x1="318.65" y1="109.80" x2="322.65" y2="109.80" stroke="#c41230" stroke-width="0.9" />
<circle cx="320.65" cy="104.20" r="1.9" fill="#c41230" stroke="#c41230" stroke-width="1"/>
<line x1="341.11" y1="104.50" x2="341.11" y2="112.70" stroke="#c41230" stroke-width="0.9" />
<line x1="339.11" y1="104.50" x2="343.11" y2="104.50" stroke="#c41230" stroke-width="0.9" />
<line x1="339.11" y1="112.70" x2="343.11" y2="112.70" stroke="#c41230" stroke-width="0.9" />
<circle cx="341.11" cy="108.60" r="1.9" fill="#c41230" stroke="#c41230" stroke-width="1"/>
<line x1="382.02" y1="134.70" x2="382.02" y2="146.30" stroke="#c41230" stroke-width="0.9" />
<line x1="380.02" y1="134.70" x2="384.02" y2="134.70" stroke="#c41230" stroke-width="0.9" />
<line x1="380.02" y1="146.30" x2="384.02" y2="146.30" stroke="#c41230" stroke-width="0.9" />
<circle cx="382.02" cy="140.90" r="1.9" fill="#c41230" stroke="#c41230" stroke-width="1"/>
<line x1="463.84" y1="144.40" x2="463.84" y2="150.20" stroke="#c41230" stroke-width="0.9" />
<line x1="461.84" y1="144.40" x2="465.84" y2="144.40" stroke="#c41230" stroke-width="0.9" />
<line x1="461.84" y1="150.20" x2="465.84" y2="150.20" stroke="#c41230" stroke-width="0.9" />
<circle cx="463.84" cy="147.30" r="1.9" fill="#c41230" stroke="#c41230" stroke-width="1"/>
<line x1="504.75" y1="150.60" x2="504.75" y2="156.70" stroke="#c41230" stroke-width="0.9" />
<line x1="502.75" y1="150.60" x2="506.75" y2="150.60" stroke="#c41230" stroke-width="0.9" />
<line x1="502.75" y1="156.70" x2="506.75" y2="156.70" stroke="#c41230" stroke-width="0.9" />
<circle cx="504.75" cy="153.30" r="1.9" fill="#c41230" stroke="#c41230" stroke-width="1"/>
<line x1="410.00" y1="29.90" x2="428.00" y2="29.90" stroke="#c41230" stroke-width="1.6" />
<circle cx="418.70" cy="29.90" r="2.2" fill="#c41230" stroke="#c41230" stroke-width="1"/>
<line x1="410.00" y1="38.60" x2="413.60" y2="38.60" stroke="#135285" stroke-width="1.6" />
<line x1="421.80" y1="38.60" x2="425.60" y2="38.60" stroke="#135285" stroke-width="1.6" />
<circle cx="417.70" cy="38.60" r="1.95" fill="#fff" stroke="#135285" stroke-width="1.1"/>
<text x="430.80" y="32.80" font-size="7.2" text-anchor="start" font-weight="normal" fill="#000" stroke="#000" stroke-width="0.06" textLength="46.2" lengthAdjust="spacingAndGlyphs" >Control plasma</text>
<text x="430.80" y="41.60" font-size="7.2" text-anchor="start" font-weight="normal" fill="#000" stroke="#000" stroke-width="0.06" textLength="68.2" lengthAdjust="spacingAndGlyphs" >HRG-depleted plasma</text>
<text x="6.20" y="215.70" font-size="10" text-anchor="start" font-weight="bold" fill="#000" stroke="#000" stroke-width="0.3" >C</text>
<line x1="37.50" y1="226.40" x2="37.50" y2="378.70" stroke="#000" stroke-width="1" />
<line x1="37.00" y1="378.20" x2="252.00" y2="378.20" stroke="#000" stroke-width="1" />
<line x1="34.50" y1="378.20" x2="37.50" y2="378.20" stroke="#000" stroke-width="1" />
<text x="32.00" y="380.95" font-size="8.1" text-anchor="end" font-weight="normal" fill="#000" stroke="#000" stroke-width="0.06" >0</text>
<line x1="34.50" y1="347.84" x2="37.50" y2="347.84" stroke="#000" stroke-width="1" />
<text x="32.00" y="350.59" font-size="8.1" text-anchor="end" font-weight="normal" fill="#000" stroke="#000" stroke-width="0.06" >100</text>
<line x1="34.50" y1="317.48" x2="37.50" y2="317.48" stroke="#000" stroke-width="1" />
<text x="32.00" y="320.23" font-size="8.1" text-anchor="end" font-weight="normal" fill="#000" stroke="#000" stroke-width="0.06" >200</text>
<line x1="34.50" y1="287.12" x2="37.50" y2="287.12" stroke="#000" stroke-width="1" />
<text x="32.00" y="289.87" font-size="8.1" text-anchor="end" font-weight="normal" fill="#000" stroke="#000" stroke-width="0.06" >300</text>
<line x1="34.50" y1="256.76" x2="37.50" y2="256.76" stroke="#000" stroke-width="1" />
<text x="32.00" y="259.51" font-size="8.1" text-anchor="end" font-weight="normal" fill="#000" stroke="#000" stroke-width="0.06" >400</text>
<line x1="34.50" y1="226.40" x2="37.50" y2="226.40" stroke="#000" stroke-width="1" />
<text x="32.00" y="229.15" font-size="8.1" text-anchor="end" font-weight="normal" fill="#000" stroke="#000" stroke-width="0.06" >500</text>
<g transform="translate(12.6,302.2) rotate(-90)"><text x="0" y="0" font-size="8.8" text-anchor="middle" fill="#000" stroke="#000" stroke-width="0.3" textLength="34.6" lengthAdjust="spacingAndGlyphs">Clot time (s)</text></g>
<line x1="58.95" y1="309.19" x2="58.95" y2="302.69" stroke="#000" stroke-width="1" />
<line x1="56.55" y1="302.69" x2="61.35" y2="302.69" stroke="#000" stroke-width="1.6" />
<rect x="52.80" y="309.69" width="12.30" height="68.51" fill="#c41230" stroke="#000" stroke-width="1"/>
<line x1="58.95" y1="378.20" x2="58.95" y2="380.70" stroke="#000" stroke-width="1" />
<line x1="80.40" y1="335.21" x2="80.40" y2="329.20" stroke="#000" stroke-width="1" />
<line x1="78.00" y1="329.20" x2="82.80" y2="329.20" stroke="#000" stroke-width="1.6" />
<rect x="74.25" y="335.71" width="12.30" height="42.49" fill="#135285" stroke="#000" stroke-width="1"/>
<line x1="80.40" y1="378.20" x2="80.40" y2="380.70" stroke="#000" stroke-width="1" />
<circle cx="80.40" cy="324.80" r="1.25" fill="#111"/>
<text x="80.40" y="390.10" font-size="8.1" text-anchor="middle" font-weight="normal" fill="#000" stroke="#000" stroke-width="0.06" >0</text>
<line x1="101.85" y1="320.42" x2="101.85" y2="312.99" stroke="#000" stroke-width="1" />
<line x1="99.45" y1="312.99" x2="104.25" y2="312.99" stroke="#000" stroke-width="1.6" />
<rect x="95.70" y="320.92" width="12.30" height="57.28" fill="#135285" stroke="#000" stroke-width="1"/>
<line x1="101.85" y1="378.20" x2="101.85" y2="380.70" stroke="#000" stroke-width="1" />
<text x="101.85" y="390.10" font-size="8.1" text-anchor="middle" font-weight="normal" fill="#000" stroke="#000" stroke-width="0.06" >200</text>
<line x1="123.30" y1="315.20" x2="123.30" y2="310.19" stroke="#000" stroke-width="1" />
<line x1="120.90" y1="310.19" x2="125.70" y2="310.19" stroke="#000" stroke-width="1.6" />
<rect x="117.15" y="315.70" width="12.30" height="62.50" fill="#135285" stroke="#000" stroke-width="1"/>
<line x1="123.30" y1="378.20" x2="123.30" y2="380.70" stroke="#000" stroke-width="1" />
<text x="123.30" y="390.10" font-size="8.1" text-anchor="middle" font-weight="normal" fill="#000" stroke="#000" stroke-width="0.06" >400</text>
<line x1="144.75" y1="295.92" x2="144.75" y2="293.19" stroke="#000" stroke-width="1" />
<line x1="142.35" y1="293.19" x2="147.15" y2="293.19" stroke="#000" stroke-width="1.6" />
<rect x="138.60" y="296.42" width="12.30" height="81.78" fill="#135285" stroke="#000" stroke-width="1"/>
<line x1="144.75" y1="378.20" x2="144.75" y2="380.70" stroke="#000" stroke-width="1" />
<text x="144.75" y="390.10" font-size="8.1" text-anchor="middle" font-weight="normal" fill="#000" stroke="#000" stroke-width="0.06" >1000</text>
<line x1="166.20" y1="282.57" x2="166.20" y2="273.46" stroke="#000" stroke-width="1" />
<line x1="163.80" y1="273.46" x2="168.60" y2="273.46" stroke="#000" stroke-width="1.6" />
<rect x="160.05" y="283.07" width="12.30" height="95.13" fill="#135285" stroke="#000" stroke-width="1"/>
<line x1="166.20" y1="378.20" x2="166.20" y2="380.70" stroke="#000" stroke-width="1" />
<text x="166.20" y="390.10" font-size="8.1" text-anchor="middle" font-weight="normal" fill="#000" stroke="#000" stroke-width="0.06" >2000</text>
<line x1="187.65" y1="277.10" x2="187.65" y2="272.55" stroke="#000" stroke-width="1" />
<line x1="185.25" y1="272.55" x2="190.05" y2="272.55" stroke="#000" stroke-width="1.6" />
<rect x="181.50" y="277.60" width="12.30" height="100.60" fill="#135285" stroke="#000" stroke-width="1"/>
<line x1="187.65" y1="378.20" x2="187.65" y2="380.70" stroke="#000" stroke-width="1" />
<circle cx="187.65" cy="268.15" r="1.25" fill="#111"/>
<text x="187.65" y="390.10" font-size="8.1" text-anchor="middle" font-weight="normal" fill="#000" stroke="#000" stroke-width="0.06" >3000</text>
<line x1="209.10" y1="268.51" x2="209.10" y2="262.89" stroke="#000" stroke-width="1" />
<line x1="206.70" y1="262.89" x2="211.50" y2="262.89" stroke="#000" stroke-width="1.6" />
<rect x="202.95" y="269.01" width="12.30" height="109.19" fill="#135285" stroke="#000" stroke-width="1"/>
<line x1="209.10" y1="378.20" x2="209.10" y2="380.70" stroke="#000" stroke-width="1" />
<circle cx="209.10" cy="258.49" r="1.25" fill="#111"/>
<text x="209.10" y="390.10" font-size="8.1" text-anchor="middle" font-weight="normal" fill="#000" stroke="#000" stroke-width="0.06" >4000</text>
<line x1="230.55" y1="241.09" x2="230.55" y2="235.81" stroke="#000" stroke-width="1" />
<line x1="228.15" y1="235.81" x2="232.95" y2="235.81" stroke="#000" stroke-width="1.6" />
<rect x="224.40" y="241.59" width="12.30" height="136.61" fill="#135285" stroke="#000" stroke-width="1"/>
<line x1="230.55" y1="378.20" x2="230.55" y2="380.70" stroke="#000" stroke-width="1" />
<circle cx="228.85" cy="231.41" r="1.25" fill="#111"/>
<circle cx="232.25" cy="231.41" r="1.25" fill="#111"/>
<text x="230.55" y="390.10" font-size="8.1" text-anchor="middle" font-weight="normal" fill="#000" stroke="#000" stroke-width="0.06" >5000</text>
<text x="59.05" y="389.90" font-size="8.1" text-anchor="middle" font-weight="normal" fill="#000" stroke="#000" stroke-width="0.06" textLength="23.6" lengthAdjust="spacingAndGlyphs" >Control</text>
<text x="59.20" y="398.80" font-size="8.1" text-anchor="middle" font-weight="normal" fill="#000" stroke="#000" stroke-width="0.06" textLength="23.3" lengthAdjust="spacingAndGlyphs" >plasma</text>
<line x1="75.20" y1="393.70" x2="240.50" y2="393.70" stroke="#222" stroke-width="1.4" />
<text x="157.90" y="404.10" font-size="8.1" text-anchor="middle" font-weight="normal" fill="#000" stroke="#000" stroke-width="0.06" textLength="116.6" lengthAdjust="spacingAndGlyphs" >HRG-depleted plasma + HRG (nM)</text>
<text x="259.60" y="215.70" font-size="10" text-anchor="start" font-weight="bold" fill="#000" stroke="#000" stroke-width="0.3" >D</text>
<line x1="296.20" y1="225.78" x2="296.20" y2="380.90" stroke="#000" stroke-width="1" />
<line x1="295.70" y1="380.40" x2="513.00" y2="380.40" stroke="#000" stroke-width="1" />
<line x1="293.20" y1="380.40" x2="296.20" y2="380.40" stroke="#000" stroke-width="1" />
<text x="289.80" y="383.30" font-size="7.9" text-anchor="end" font-weight="normal" fill="#000" stroke="#000" stroke-width="0.06" >0</text>
<line x1="293.20" y1="363.22" x2="296.20" y2="363.22" stroke="#000" stroke-width="1" />
<text x="289.80" y="366.12" font-size="7.9" text-anchor="end" font-weight="normal" fill="#000" stroke="#000" stroke-width="0.06" >200</text>
<line x1="293.20" y1="346.04" x2="296.20" y2="346.04" stroke="#000" stroke-width="1" />
<text x="289.80" y="348.94" font-size="7.9" text-anchor="end" font-weight="normal" fill="#000" stroke="#000" stroke-width="0.06" >400</text>
<line x1="293.20" y1="328.86" x2="296.20" y2="328.86" stroke="#000" stroke-width="1" />
<text x="289.80" y="331.76" font-size="7.9" text-anchor="end" font-weight="normal" fill="#000" stroke="#000" stroke-width="0.06" >600</text>
<line x1="293.20" y1="311.68" x2="296.20" y2="311.68" stroke="#000" stroke-width="1" />
<text x="289.80" y="314.58" font-size="7.9" text-anchor="end" font-weight="normal" fill="#000" stroke="#000" stroke-width="0.06" >800</text>
<line x1="293.20" y1="294.50" x2="296.20" y2="294.50" stroke="#000" stroke-width="1" />
<text x="289.80" y="297.40" font-size="7.9" text-anchor="end" font-weight="normal" fill="#000" stroke="#000" stroke-width="0.06" >1000</text>
<line x1="293.20" y1="277.32" x2="296.20" y2="277.32" stroke="#000" stroke-width="1" />
<text x="289.80" y="280.22" font-size="7.9" text-anchor="end" font-weight="normal" fill="#000" stroke="#000" stroke-width="0.06" >1200</text>
<line x1="293.20" y1="260.14" x2="296.20" y2="260.14" stroke="#000" stroke-width="1" />
<text x="289.80" y="263.04" font-size="7.9" text-anchor="end" font-weight="normal" fill="#000" stroke="#000" stroke-width="0.06" >1400</text>
<line x1="293.20" y1="242.96" x2="296.20" y2="242.96" stroke="#000" stroke-width="1" />
<text x="289.80" y="245.86" font-size="7.9" text-anchor="end" font-weight="normal" fill="#000" stroke="#000" stroke-width="0.06" >1600</text>
<line x1="293.20" y1="225.78" x2="296.20" y2="225.78" stroke="#000" stroke-width="1" />
<text x="289.80" y="228.68" font-size="7.9" text-anchor="end" font-weight="normal" fill="#000" stroke="#000" stroke-width="0.06" >1800</text>
<g transform="translate(267.1,303.2) rotate(-90)"><text x="0" y="0" font-size="9" text-anchor="middle" fill="#000" stroke="#000" stroke-width="0.3" textLength="35.4" lengthAdjust="spacingAndGlyphs">Clot time (s)</text></g>
<rect x="302.4" y="231.7" width="13.9" height="4.5" fill="#c41230" stroke="#000" stroke-width="0.8"/>
<rect x="302.4" y="240.4" width="13.9" height="4.5" fill="#135285" stroke="#000" stroke-width="0.8"/>
<text x="319.20" y="235.80" font-size="7.2" text-anchor="start" font-weight="normal" fill="#000" stroke="#000" stroke-width="0.06" textLength="46.4" lengthAdjust="spacingAndGlyphs" >Control plasma</text>
<text x="319.20" y="244.50" font-size="7.2" text-anchor="start" font-weight="normal" fill="#000" stroke="#000" stroke-width="0.06" textLength="68.5" lengthAdjust="spacingAndGlyphs" >HRG-depleted plasma</text>
<line x1="322.85" y1="357.81" x2="322.85" y2="355.32" stroke="#000" stroke-width="0.9" />
<line x1="321.05" y1="355.32" x2="324.65" y2="355.32" stroke="#000" stroke-width="1.1" />
<rect x="320.15" y="358.26" width="5.40" height="22.14" fill="#c41230" stroke="#000" stroke-width="0.9"/>
<line x1="332.35" y1="363.99" x2="332.35" y2="361.50" stroke="#000" stroke-width="0.9" />
<line x1="330.55" y1="361.50" x2="334.15" y2="361.50" stroke="#000" stroke-width="1.1" />
<rect x="329.65" y="364.44" width="5.40" height="15.96" fill="#135285" stroke="#000" stroke-width="0.9"/>
<line x1="327.50" y1="380.40" x2="327.50" y2="383.20" stroke="#000" stroke-width="1" />
<line x1="354.55" y1="282.99" x2="354.55" y2="281.61" stroke="#000" stroke-width="0.9" />
<line x1="352.75" y1="281.61" x2="356.35" y2="281.61" stroke="#000" stroke-width="1.1" />
<rect x="351.85" y="283.44" width="5.40" height="96.96" fill="#c41230" stroke="#000" stroke-width="0.9"/>
<line x1="364.05" y1="281.10" x2="364.05" y2="279.30" stroke="#000" stroke-width="0.9" />
<line x1="362.25" y1="279.30" x2="365.85" y2="279.30" stroke="#000" stroke-width="1.1" />
<rect x="361.35" y="281.55" width="5.40" height="98.85" fill="#135285" stroke="#000" stroke-width="0.9"/>
<line x1="359.20" y1="380.40" x2="359.20" y2="383.20" stroke="#000" stroke-width="1" />
<line x1="386.15" y1="359.10" x2="386.15" y2="356.18" stroke="#000" stroke-width="0.9" />
<line x1="384.35" y1="356.18" x2="387.95" y2="356.18" stroke="#000" stroke-width="1.1" />
<rect x="383.45" y="359.55" width="5.40" height="20.85" fill="#c41230" stroke="#000" stroke-width="0.9"/>
<line x1="395.65" y1="358.24" x2="395.65" y2="355.83" stroke="#000" stroke-width="0.9" />
<line x1="393.85" y1="355.83" x2="397.45" y2="355.83" stroke="#000" stroke-width="1.1" />
<rect x="392.95" y="358.69" width="5.40" height="21.71" fill="#135285" stroke="#000" stroke-width="0.9"/>
<line x1="390.80" y1="380.40" x2="390.80" y2="383.20" stroke="#000" stroke-width="1" />
<line x1="417.35" y1="358.24" x2="417.35" y2="355.23" stroke="#000" stroke-width="0.9" />
<line x1="415.55" y1="355.23" x2="419.15" y2="355.23" stroke="#000" stroke-width="1.1" />
<rect x="414.65" y="358.69" width="5.40" height="21.71" fill="#c41230" stroke="#000" stroke-width="0.9"/>
<line x1="426.85" y1="357.81" x2="426.85" y2="357.21" stroke="#000" stroke-width="0.9" />
<line x1="425.05" y1="357.21" x2="428.65" y2="357.21" stroke="#000" stroke-width="1.1" />
<rect x="424.15" y="358.26" width="5.40" height="22.14" fill="#135285" stroke="#000" stroke-width="0.9"/>
<line x1="422.00" y1="380.40" x2="422.00" y2="383.20" stroke="#000" stroke-width="1" />
<line x1="448.95" y1="360.13" x2="448.95" y2="355.23" stroke="#000" stroke-width="0.9" />
<line x1="447.15" y1="355.23" x2="450.75" y2="355.23" stroke="#000" stroke-width="1.1" />
<rect x="446.25" y="360.58" width="5.40" height="19.82" fill="#c41230" stroke="#000" stroke-width="0.9"/>
<line x1="458.45" y1="366.48" x2="458.45" y2="366.14" stroke="#000" stroke-width="0.9" />
<line x1="456.65" y1="366.14" x2="460.25" y2="366.14" stroke="#000" stroke-width="1.1" />
<rect x="455.75" y="366.93" width="5.40" height="13.47" fill="#135285" stroke="#000" stroke-width="0.9"/>
<line x1="453.60" y1="380.40" x2="453.60" y2="383.20" stroke="#000" stroke-width="1" />
<line x1="480.95" y1="270.10" x2="480.95" y2="268.47" stroke="#000" stroke-width="0.9" />
<line x1="479.15" y1="268.47" x2="482.75" y2="268.47" stroke="#000" stroke-width="1.1" />
<rect x="478.25" y="270.55" width="5.40" height="109.85" fill="#c41230" stroke="#000" stroke-width="0.9"/>
<line x1="490.45" y1="271.48" x2="490.45" y2="270.02" stroke="#000" stroke-width="0.9" />
<line x1="488.65" y1="270.02" x2="492.25" y2="270.02" stroke="#000" stroke-width="1.1" />
<rect x="487.75" y="271.93" width="5.40" height="108.47" fill="#135285" stroke="#000" stroke-width="0.9"/>
<line x1="485.60" y1="380.40" x2="485.60" y2="383.20" stroke="#000" stroke-width="1" />
<text x="324.90" y="391.80" font-size="7.5" text-anchor="middle" font-weight="normal" fill="#000" stroke="#000" stroke-width="0.06" >− CTI</text>
<text x="356.60" y="391.80" font-size="7.5" text-anchor="middle" font-weight="normal" fill="#000" stroke="#000" stroke-width="0.06" >+ CTI</text>
<text x="388.20" y="391.80" font-size="7.5" text-anchor="middle" font-weight="normal" fill="#000" stroke="#000" stroke-width="0.06" >− CTI</text>
<text x="419.40" y="391.80" font-size="7.5" text-anchor="middle" font-weight="normal" fill="#000" stroke="#000" stroke-width="0.06" >+ CTI</text>
<text x="451.00" y="391.80" font-size="7.5" text-anchor="middle" font-weight="normal" fill="#000" stroke="#000" stroke-width="0.06" >− CTI</text>
<text x="483.00" y="391.80" font-size="7.5" text-anchor="middle" font-weight="normal" fill="#000" stroke="#000" stroke-width="0.06" >+ CTI</text>
<line x1="319.00" y1="395.50" x2="369.00" y2="395.50" stroke="#222" stroke-width="1.4" />
<text x="344.00" y="404.80" font-size="7.4" text-anchor="middle" font-weight="normal" fill="#000" stroke="#000" stroke-width="0.06" >APTT</text>
<line x1="382.60" y1="395.50" x2="433.10" y2="395.50" stroke="#222" stroke-width="1.4" />
<text x="407.85" y="404.80" font-size="7.4" text-anchor="middle" font-weight="normal" fill="#000" stroke="#000" stroke-width="0.06" >PT</text>
<line x1="444.30" y1="395.50" x2="495.30" y2="395.50" stroke="#222" stroke-width="1.4" />
<text x="469.80" y="404.80" font-size="7.4" text-anchor="middle" font-weight="normal" fill="#000" stroke="#000" stroke-width="0.06" >PolyP</text>
<polyline points="321.5,354.5 321.5,351.5 333.5,351.5 333.5,354.5" fill="none" stroke="#000" stroke-width="1.0"/>
<circle cx="327.50" cy="347.00" r="1.1" fill="#111"/>
<polyline points="448.5,353.5 448.5,350.5 460.5,350.5 460.5,353.5" fill="none" stroke="#000" stroke-width="1.0"/>
<circle cx="454.00" cy="346.60" r="1.1" fill="#111"/>
<line x1="350.00" y1="273.60" x2="367.50" y2="273.60" stroke="#222" stroke-width="1.4" />
<text x="358.70" y="271.40" font-size="7.3" text-anchor="middle" font-weight="normal" fill="#000" stroke="#000" stroke-width="0.06" >NS</text>
<line x1="383.20" y1="349.80" x2="400.10" y2="349.80" stroke="#222" stroke-width="1.4" />
<text x="391.70" y="347.60" font-size="7.3" text-anchor="middle" font-weight="normal" fill="#000" stroke="#000" stroke-width="0.06" >NS</text>
<line x1="476.30" y1="265.30" x2="493.80" y2="265.30" stroke="#222" stroke-width="1.4" />
<text x="485.00" y="263.10" font-size="7.3" text-anchor="middle" font-weight="normal" fill="#000" stroke="#000" stroke-width="0.06" >NS</text>
<polyline points="449.5,309.8 449.5,239.5 481.5,239.5 481.5,242.2" fill="none" stroke="#000" stroke-width="1.0"/>
<circle cx="461.40" cy="235.60" r="1.05" fill="#111"/>
<circle cx="464.10" cy="235.60" r="1.05" fill="#111"/>
<circle cx="466.80" cy="235.60" r="1.05" fill="#111"/>
<circle cx="469.50" cy="235.60" r="1.05" fill="#111"/>
<polyline points="460.5,291.5 460.5,250.5 493.5,250.5 493.5,253.5" fill="none" stroke="#000" stroke-width="1.0"/>
<circle cx="472.70" cy="246.80" r="1.05" fill="#111"/>
<circle cx="475.45" cy="246.80" r="1.05" fill="#111"/>
<circle cx="478.20" cy="246.80" r="1.05" fill="#111"/>
<circle cx="480.95" cy="246.80" r="1.05" fill="#111"/>
<rect x="0.65" y="0.65" width="518.7" height="410.7" fill="none" stroke="#000" stroke-width="1.3"/>
</svg>
</body></html>
